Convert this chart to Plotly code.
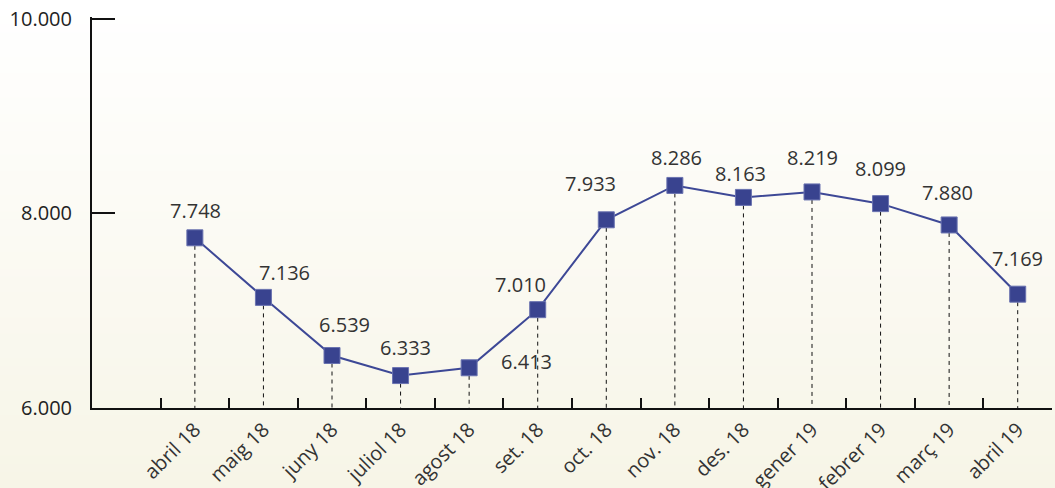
import plotly.graph_objects as go

months = ["abril 18", "maig 18", "juny 18", "juliol 18", "agost 18", "set. 18", "oct. 18",
          "nov. 18", "des. 18", "gener 19", "febrer 19", "març 19", "abril 19"]
values = [7748, 7136, 6539, 6333, 6413, 7010, 7933, 8286, 8163, 8219, 8099, 7880, 7169]
y_ticks = [6000, 8000, 10000]

# label offsets (style only)
label_dx = [1, 21, 12, 5, 57, -17, -16, 2, -3, 0, 0, -2, 0]
label_dy = [27, 25, 31, 28, 6, 25, 36, 28, 24, 34, 35, 32, 36]

W, H = 1055, 488
ml, mr, mt, mb = 92, 3, 17, 80
pw, ph = W - ml - mr, H - mt - mb

fig = go.Figure()

# background gradient
n = 60
top = (255, 255, 255)
bot = (247, 245, 231)
y_top = 1 + mt / ph
y_bot = -mb / ph
for i in range(n):
    t = i / (n - 1)
    c = tuple(round(top[k] + (bot[k] - top[k]) * t) for k in range(3))
    y1 = y_top - (y_top - y_bot) * i / n
    y0 = y_top - (y_top - y_bot) * (i + 1) / n - 0.002
    fig.add_shape(type="rect", xref="paper", yref="paper", x0=-ml / pw - 0.01, x1=1 + mr / pw + 0.01,
                  y0=y0, y1=y1, fillcolor="rgb(%d,%d,%d)" % c, line=dict(width=0), layer="below")

# dashed drop lines
dx, dy = [], []
for m, v in zip(months, values):
    dx += [m, m, None]
    dy += [v, y_ticks[0], None]
fig.add_trace(go.Scatter(x=dx, y=dy, mode="lines", line=dict(color="#111", width=1, dash="4px,4px"),
                         hoverinfo="skip", showlegend=False))

fig.add_trace(go.Scatter(x=months, y=values, mode="lines+markers",
                         line=dict(color="#3d4896", width=2),
                         marker=dict(symbol="square", size=16, color="#39438f",
                                     line=dict(color="#6a73b0", width=1)),
                         showlegend=False))

for m, v, ddx, ddy in zip(months, values, label_dx, label_dy):
    fig.add_annotation(x=m, y=v, text=f"{v:,}".replace(",", "."), showarrow=False,
                       xshift=ddx, yshift=ddy, font=dict(size=20, color="#333", family="Open Sans"))

fig.update_layout(
    width=W, height=H, margin=dict(l=ml, r=mr, t=mt, b=mb),
    paper_bgcolor="#fbfaf3", plot_bgcolor="rgba(0,0,0,0)",
    separators=",.",
    font=dict(family="Open Sans", color="#333"),
    xaxis=dict(type="category", categoryorder="array", categoryarray=months, automargin=False,
               range=[-1.5, 12.5], tickson="boundaries", ticks="inside", ticklen=10, tickwidth=2,
               tickcolor="#111", showline=True, linecolor="#111", linewidth=2, showgrid=False,
               zeroline=False, tickangle=-45, tickfont=dict(size=20, color="#333")),
    yaxis=dict(range=[5999.9, 10016], tickvals=y_ticks, tickformat=",d", ticks="inside", ticklen=23,
               automargin=False,
               tickwidth=2, tickcolor="#111", showline=True, linecolor="#111", linewidth=2,
               showgrid=False, zeroline=False, tickfont=dict(size=20, color="#222"), ticklabelstandoff=14),
)

fig.write_html("out.html", config={"displayModeBar": False},
               post_script="document.body.style.margin='0';document.body.style.background='#fbfaf3';")
